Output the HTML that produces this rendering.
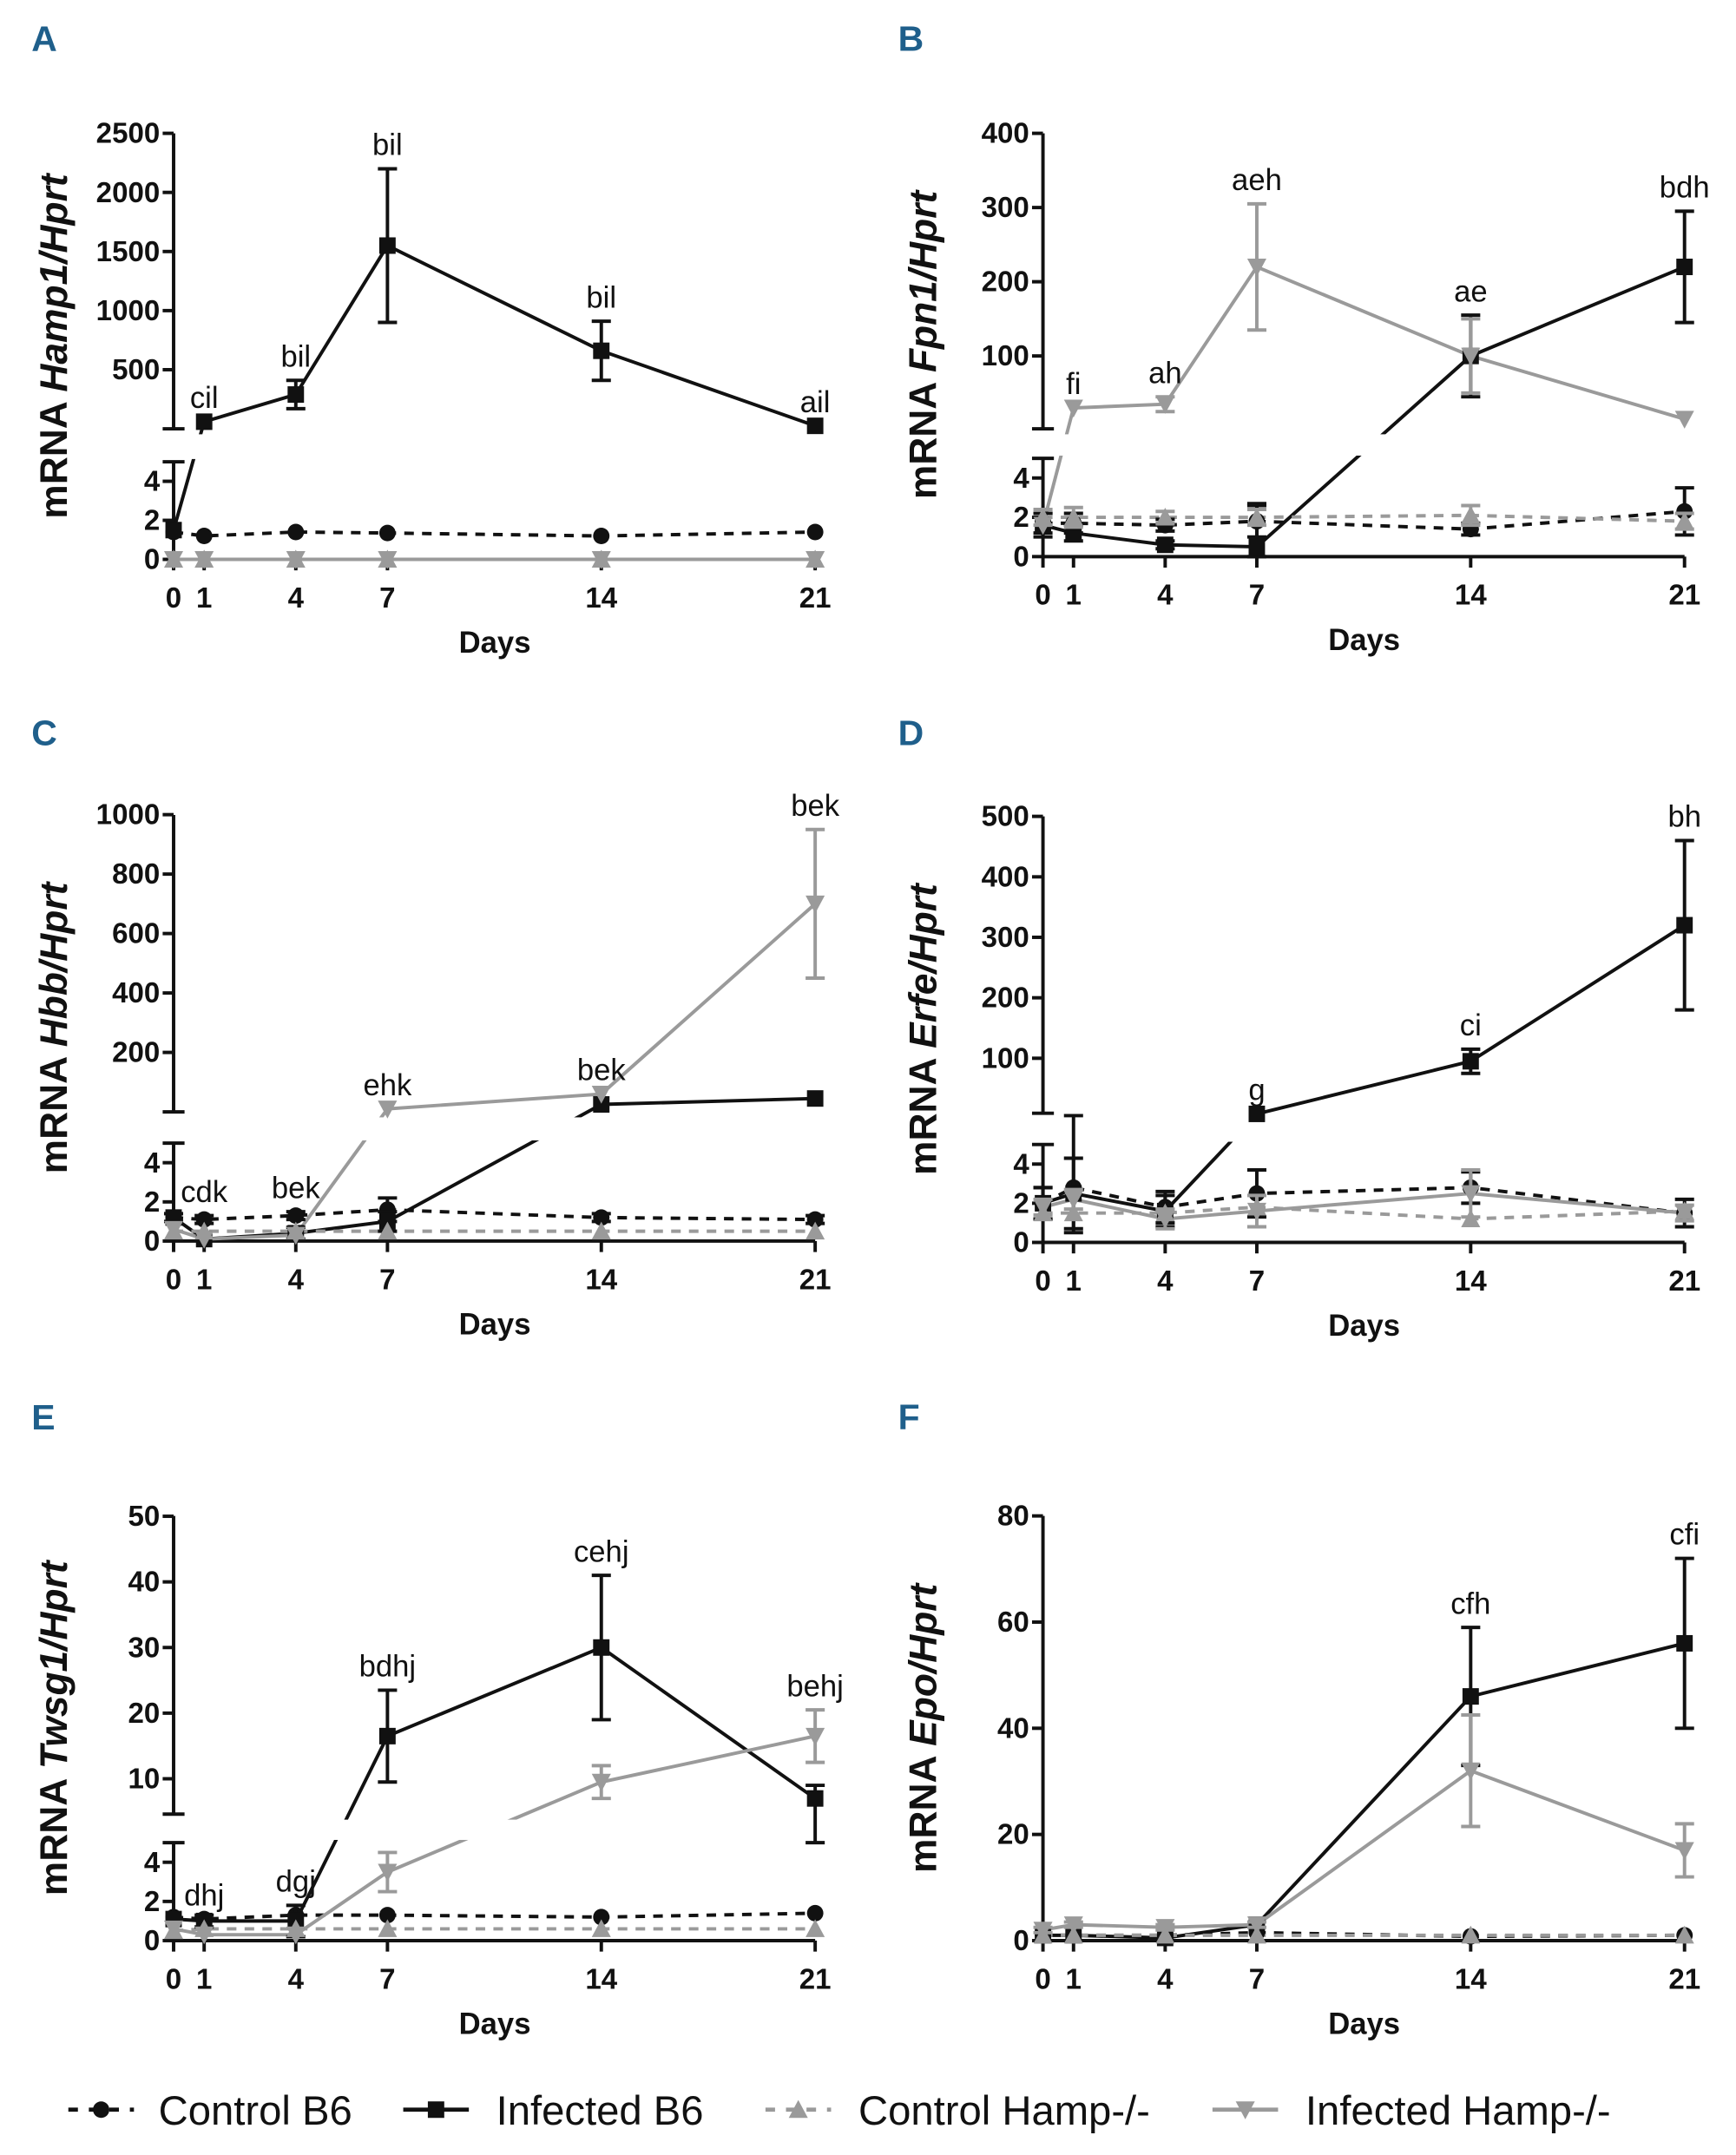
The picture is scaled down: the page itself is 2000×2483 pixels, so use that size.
<!DOCTYPE html>
<html><head><meta charset="utf-8"><style>
html,body{margin:0;padding:0;background:#fff;}
svg{display:block;font-family:"Liberation Sans",sans-serif;}
</style></head><body>
<svg id="fig" xmlns="http://www.w3.org/2000/svg" width="2000" height="2483" viewBox="0 0 1270 1568" preserveAspectRatio="none">
</svg>
<script>
const days = [0,1,4,7,14,21];
const seriesNames = ['control-b6','infected-b6','control-hamp','infected-hamp'];
// Panel A values
const aCtrlB6 = [1.4,1.2,1.4,1.35,1.2,1.4];
const aInfB6 = [1.5,60,290,1550,660,25];
const aInfB6Err = [0,0,120,650,250,0];
const aCtrlH = [0,0,0,0,0,0];
const aInfH = [0,0,0,0,0,0];
// Panel B values
const bCtrlB6 = [1.7,1.7,1.6,1.8,1.4,2.3];
const bCtrlB6Err = [0.5,0.5,0.3,0.8,0.3,1.2];
const bInfB6 = [1.6,1.2,0.6,0.5,100,220];
const bInfB6Err = [0.6,0.4,0.2,2.2,55,75];
const bCtrlH = [2,2,2,2,2.1,1.8];
const bCtrlHErr = [0.4,0.5,0.3,0.4,0.5,0.4];
const bInfH = [1.6,30,35,220,100,15];
const bInfHErr = [0,0,10,85,50,0];
// Panel C values
const cCtrlB6 = [1.2,1.1,1.3,1.6,1.2,1.1];
const cCtrlB6Err = [0.2,0.2,0.2,0.6,0.2,0.2];
const cInfB6 = [1.2,0.1,0.4,1.0,25,45];
const cInfB6Err = [0,0,0.3,0.5,0,0];
const cCtrlH = [0.5,0.5,0.5,0.5,0.5,0.5];
const cInfH = [0.6,0.1,0.3,10,60,700];
const cInfHErr = [0,0,0,0,0,250];
// Panel D values
const dCtrlB6 = [2,2.8,1.8,2.5,2.8,1.5];
const dCtrlB6Err = [0.8,2.3,0.8,1.2,0.8,0.7];
const dInfB6 = [2,2.5,1.6,8,95,320];
const dInfB6Err = [0.8,1.8,0.8,0,20,140];
const dCtrlH = [1.5,1.5,1.5,1.8,1.2,1.6];
const dCtrlHErr = [0,0,0,0,0,0];
const dInfH = [1.8,2.2,1.2,1.6,2.5,1.5];
const dInfHErr = [0.4,0.5,0.5,0.8,1.2,0.4];
// Panel E values
const eCtrlB6 = [1.2,1.1,1.3,1.3,1.2,1.4];
const eInfB6 = [1.1,1.0,1.0,16.5,30,7];
const eInfB6Err = [0,0.3,0.8,7,11,2];
const eCtrlH = [0.5,0.6,0.6,0.6,0.6,0.6];
const eInfH = [0.6,0.3,0.3,3.5,9.5,16.5];
const eInfHErr = [0,0,0,1,2.5,4];
// Panel F values
const fCtrlB6 = [1,1,1,1.5,0.8,1];
const fInfB6 = [1,1,0.5,3,46,56];
const fInfB6Err = [0,0,0,0,13,16];
const fCtrlH = [1,1,1,1,1,1];
const fInfH = [2,3,2.5,3,32,17];
const fInfHErr = [0.5,0.5,0.5,0.5,10.5,5];
// tick labels
const aTicks = [500,1000,1500,2000,2500];
const bTicks = [100,200,300,400];
const cTicks = [200,400,600,800,1000];
const dTicks = [100,200,300,400,500];
const eTicks = [10,20,30,40,50];
const fTicks = [0,20,40,60,80];
const lowTicks = [0,2,4];

const Z = [0,0,0,0,0,0];
const panels = [
 {id:'a',letter:'A',lx:23,ly:37,ax:127,lowZero:407,lowUnit:14.2,upZero:312,upUnit:43/500,upTop:97,upBottom:312,ticks:aTicks,gene:'Hamp1/Hprt',
  series:[[aCtrlB6,Z],[aInfB6,aInfB6Err],[aCtrlH,Z],[aInfH,Z]],
  labels:[[1,'cil',1],[4,'bil',1],[7,'bil',1],[14,'bil',1],[21,'ail',1]]},
 {id:'b',letter:'B',lx:657,ly:37,ax:763,lowZero:405,lowUnit:14.3,upZero:313,upUnit:0.54,upTop:97,upBottom:312,ticks:bTicks,gene:'Fpn1/Hprt',
  series:[[bCtrlB6,bCtrlB6Err],[bInfB6,bInfB6Err],[bCtrlH,bCtrlHErr],[bInfH,bInfHErr]],
  labels:[[1,'fi',3],[4,'ah',3],[7,'aeh',3],[14,'ae',1],[21,'bdh',1]]},
 {id:'c',letter:'C',lx:23,ly:542,ax:127,lowZero:903,lowUnit:14.25,upZero:809,upUnit:43.25/200,upTop:593,upBottom:809,ticks:cTicks,gene:'Hbb/Hprt',
  series:[[cCtrlB6,cCtrlB6Err],[cInfB6,cInfB6Err],[cCtrlH,Z],[cInfH,cInfHErr]],
  labels:[[1,'cdk',0],[4,'bek',0],[7,'ehk',3],[14,'bek',3],[21,'bek',3]]},
 {id:'d',letter:'D',lx:657,ly:542,ax:763,lowZero:904,lowUnit:14.25,upZero:814,upUnit:0.44,upTop:594,upBottom:810,ticks:dTicks,gene:'Erfe/Hprt',
  series:[[dCtrlB6,dCtrlB6Err],[dInfB6,dInfB6Err],[dCtrlH,dCtrlHErr],[dInfH,dInfHErr]],
  labels:[[7,'g',1],[14,'ci',1],[21,'bh',1]]},
 {id:'e',letter:'E',lx:23,ly:1040,ax:127,lowZero:1412,lowUnit:14.25,upZero:1342,upUnit:4.775,upTop:1103,upBottom:1320,ticks:eTicks,gene:'Twsg1/Hprt',
  series:[[eCtrlB6,Z],[eInfB6,eInfB6Err],[eCtrlH,Z],[eInfH,eInfHErr]],
  labels:[[1,'dhj',0],[4,'dgj',1],[7,'bdhj',1],[14,'cehj',1],[21,'behj',3]]},
 {id:'f',letter:'F',lx:657,ly:1040,ax:763,lowZero:1412,lowUnit:3.8625,upZero:null,upTop:1103,ticks:fTicks,gene:'Epo/Hprt',
  series:[[fCtrlB6,Z],[fInfB6,fInfB6Err],[fCtrlH,Z],[fInfH,fInfHErr]],
  labels:[[14,'cfh',1],[21,'cfi',1]]}
];
const styles = [
 {c:'#111',dash:'7,6',m:'circle'},
 {c:'#111',dash:null,m:'square'},
 {c:'#9a9a9a',dash:'7,6',m:'tri-up'},
 {c:'#9a9a9a',dash:null,m:'tri-down'}
];
const NS='http://www.w3.org/2000/svg';
const svg=document.getElementById('fig');
function mk(tag,attrs,parent,text){const e=document.createElementNS(NS,tag);for(const k in attrs)e.setAttribute(k,attrs[k]);if(text!==undefined)e.textContent=text;(parent||svg).appendChild(e);return e;}
const DAYPX=22.35;
function marker(g,m,x,y,c){
  if(m==='circle')return mk('circle',{cx:x,cy:y,r:6,fill:c},g);
  if(m==='square')return mk('rect',{x:x-6,y:y-6,width:12,height:12,fill:c},g);
  if(m==='tri-up')return mk('polygon',{points:`${x},${y-7} ${x+7},${y+6} ${x-7},${y+6}`,fill:c},g);
  return mk('polygon',{points:`${x-7},${y-6} ${x+7},${y-6} ${x},${y+7}`,fill:c},g);
}
panels.forEach(p=>{
  const g=mk('g',{});
  
  
  const xs=d=>p.ax+d*DAYPX;
  const broken=p.upZero!==null;
  const ys=v=>(!broken||v<=5)?p.lowZero-v*p.lowUnit:p.upZero-v*p.upUnit;
  const lt=mk('text',{x:p.lx,y:p.ly,'font-size':26,'font-weight':'bold',fill:'#1f5f8b'},g,p.letter);
  
  
  const ax=mk('g',{stroke:'#111','stroke-width':2.5},g);
  
  
  const lowTop=broken?ys(5):p.upTop;
  mk('line',{x1:p.ax,y1:lowTop,x2:p.ax,y2:p.lowZero},ax);
  if(broken){
    mk('line',{x1:p.ax,y1:p.upTop,x2:p.ax,y2:p.upBottom},ax);
    mk('line',{x1:p.ax-8,y1:p.upBottom,x2:p.ax+8,y2:p.upBottom},ax);
    mk('line',{x1:p.ax-8,y1:lowTop,x2:p.ax+8,y2:lowTop},ax);
    lowTicks.forEach(t=>{const y=p.lowZero-t*p.lowUnit;mk('line',{x1:p.ax-8,y1:y,x2:p.ax,y2:y},ax);
      const tl=mk('text',{x:p.ax-10,y:y+7,'font-size':21,'font-weight':'bold','text-anchor':'end',stroke:'none',fill:'#111'},g,t);
      });
    p.ticks.forEach(t=>{const y=p.upZero-t*p.upUnit;mk('line',{x1:p.ax-8,y1:y,x2:p.ax,y2:y},ax);
      const tl=mk('text',{x:p.ax-10,y:y+7,'font-size':21,'font-weight':'bold','text-anchor':'end',fill:'#111'},g,t);
      });
  } else {
    p.ticks.forEach(t=>{const y=p.lowZero-t*p.lowUnit;mk('line',{x1:p.ax-8,y1:y,x2:p.ax,y2:y},ax);
      const tl=mk('text',{x:p.ax-10,y:y+7,'font-size':21,'font-weight':'bold','text-anchor':'end',fill:'#111'},g,t);
      });
  }
  const xa=mk('g',{stroke:'#111','stroke-width':2.5},g);
  
  
  mk('line',{x1:p.ax,y1:p.lowZero,x2:xs(21),y2:p.lowZero},xa);
  days.forEach(d=>{mk('line',{x1:xs(d),y1:p.lowZero,x2:xs(d),y2:p.lowZero+8},xa);
    const tl=mk('text',{x:xs(d),y:p.lowZero+35,'font-size':21,'font-weight':'bold','text-anchor':'middle',fill:'#111'},g,d);
    });
  const dl=mk('text',{x:p.ax+235,y:p.lowZero+68,'font-size':22,'font-weight':'bold','text-anchor':'middle',fill:'#111'},g,'Days');
  
  const cy=(p.upTop+p.lowZero)/2;
  const yt=mk('text',{x:p.ax-78,y:cy,'font-size':28,'font-weight':'bold','text-anchor':'middle',fill:'#111',transform:`rotate(-90 ${p.ax-78} ${cy})`},g);
  
  mk('tspan',{},yt,'mRNA ');mk('tspan',{'font-style':'italic'},yt,p.gene);
  p.series.forEach((s,i)=>{
    const st=styles[i];
    const pts=s[0].map((v,k)=>xs(days[k])+','+ys(v)).join(' ');
    const pl=mk('polyline',{points:pts,fill:'none',stroke:st.c,'stroke-width':2.5,'stroke-dasharray':st.dash||'none'},g);
    
  });
  if(broken){
    const gap=mk('rect',{x:p.ax+3,y:p.upBottom+4,width:480,height:lowTop-p.upBottom-6,fill:'#fff'},g);
    
  }
  p.series.forEach((s,i)=>{
    const st=styles[i];
    s[0].forEach((v,k)=>{
      const e=s[1][k],x=xs(days[k]);
      if(e>0){const y1=ys(v+e),y2=ys(Math.max(v-e,0));
        const eb=mk('path',{d:`M${x},${y1}V${y2}M${x-7},${y1}H${x+7}M${x-7},${y2}H${x+7}`,stroke:st.c,'stroke-width':2.5,fill:'none'},g);
        }
      const m=marker(g,st.m,x,ys(v),st.c);
      
      
    });
  });
  p.labels.forEach(l=>{
    const k=days.indexOf(l[0]);const s=p.series[l[2]];
    const y=ys(s[0][k]+s[1][k])-10;
    const t=mk('text',{x:xs(l[0]),y:y,'font-size':22,'text-anchor':'middle',fill:'#111'},g,l[1]);
    
  });
});
const legX=[[50,116,'Control B6'],[295,363,'Infected B6'],[560,628,'Control Hamp-/-'],[887,955,'Infected Hamp-/-']];
const leg=mk('g',{});


legX.forEach((l,i)=>{
  const st=styles[i];
  const it=mk('g',{},leg);
  
  
  mk('line',{x1:l[0],y1:1535,x2:l[0]+48,y2:1535,stroke:st.c,'stroke-width':3,'stroke-dasharray':st.dash?'7,8':'none'},it);
  marker(it,st.m,l[0]+24,1535,st.c);
  mk('text',{x:l[1],y:1546,'font-size':30,fill:'#111'},it,l[2]);
});
</script>
</body></html>
